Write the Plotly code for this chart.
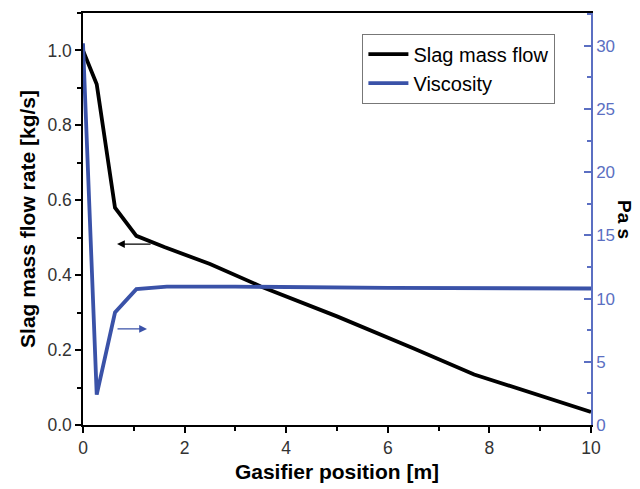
import plotly.graph_objects as go

# Data
pos_flow = [0, 0.27, 0.63, 1.05, 1.6, 2.5, 3.5, 5.0, 6.5, 7.7, 10]
slag_flow = [1.0, 0.91, 0.58, 0.505, 0.475, 0.43, 0.37, 0.29, 0.205, 0.135, 0.035]

pos_visc = [0, 0.27, 0.63, 1.05, 1.65, 3.0, 6.0, 10]
viscosity = [30.2, 2.4, 8.9, 10.75, 10.95, 10.95, 10.85, 10.8]

x_ticks = [0, 2, 4, 6, 8, 10]
y_left_ticks = [0.0, 0.2, 0.4, 0.6, 0.8, 1.0]
y_right_ticks = [0, 5, 10, 15, 20, 25, 30]

BLUE = "#3a52a8"
AXBLUE = "#5b6fc2"
FONT = "Liberation Sans, Arial, sans-serif"

fig = go.Figure()
fig.add_trace(go.Scatter(x=pos_flow, y=slag_flow, mode="lines", name="Slag mass flow",
                         line=dict(color="black", width=3.8), yaxis="y"))
fig.add_trace(go.Scatter(x=pos_visc, y=viscosity, mode="lines", name="Viscosity",
                         line=dict(color=BLUE, width=3.8), yaxis="y2"))

fig.update_layout(
    width=632, height=481,
    margin=dict(l=75, r=49, t=5, b=64, autoexpand=False),
    plot_bgcolor="white", paper_bgcolor="white",
    font=dict(family=FONT, size=17, color="#333"),
    showlegend=True,
    legend=dict(x=0.55, y=0.95, xanchor="left", yanchor="top",
                bordercolor="#777", borderwidth=1, bgcolor="white",
                font=dict(size=20, color="black"), tracegroupgap=0, itemwidth=40),
    xaxis=dict(range=[0, 10], tickvals=x_ticks, ticktext=[str(v) for v in x_ticks],
               showgrid=False, zeroline=False, showline=True, linecolor="black", linewidth=1.5,
               mirror=False, ticks="outside", ticklen=6, tickwidth=1.5, tickcolor="black",
               minor=dict(dtick=1, ticks="outside", ticklen=4, tickwidth=1.5, tickcolor="black"),
               tickfont=dict(size=17.5, color="#333"),
               title=dict(text="<b>Gasifier position [m]</b>", font=dict(size=21, color="black"), standoff=8)),
    xaxis2=dict(range=[0, 10], overlaying="x", side="top", showline=True, linecolor="black",
                linewidth=1.5, showticklabels=False, ticks="", showgrid=False, zeroline=False),
    yaxis=dict(range=[0, 1.1], tickvals=y_left_ticks, ticktext=["%.1f" % v for v in y_left_ticks],
               showgrid=False, zeroline=False, showline=True, linecolor="black", linewidth=1.5,
               ticks="outside", ticklen=6, tickwidth=1.5, tickcolor="black",
               minor=dict(dtick=0.1, ticks="outside", ticklen=4, tickwidth=1.5, tickcolor="black"),
               tickfont=dict(size=17.5, color="#333"),
               title=dict(text="<b>Slag mass flow rate [kg/s]</b>", font=dict(size=21, color="black"), standoff=6)),
    yaxis2=dict(range=[0, 32.6], tickvals=y_right_ticks, overlaying="y", side="right",
                showgrid=False, zeroline=False, showline=True, linecolor=AXBLUE, linewidth=1.5,
                ticks="inside", ticklen=7, tickwidth=1.5, tickcolor=AXBLUE,
                minor=dict(dtick=2.5, ticks="inside", ticklen=4, tickwidth=1.5, tickcolor=AXBLUE),
                tickfont=dict(size=17, color=AXBLUE)),
)

# dummy trace to show top axis line
fig.add_trace(go.Scatter(x=[0], y=[None], xaxis="x2", yaxis="y", showlegend=False, hoverinfo="skip"))

# Right axis title (reads top-to-bottom)
fig.add_annotation(text="<b>Pa s</b>", xref="paper", yref="paper", x=1.067, y=0.5,
                   xanchor="center", textangle=90, showarrow=False, borderpad=0,
                   font=dict(size=19, color="black"))

# Arrows pointing to each axis
fig.add_annotation(x=0.67, y=0.483, ax=1.36, ay=0.483, xref="x", yref="y", axref="x", ayref="y",
                   showarrow=True, arrowhead=2, arrowsize=1.2, arrowwidth=1.3, arrowcolor="black", text="")
fig.add_annotation(x=1.26, y=7.6, ax=0.65, ay=7.6, xref="x", yref="y2", axref="x", ayref="y2",
                   showarrow=True, arrowhead=2, arrowsize=1.2, arrowwidth=1.3, arrowcolor=BLUE, text="")

fig.write_html("out.html")
